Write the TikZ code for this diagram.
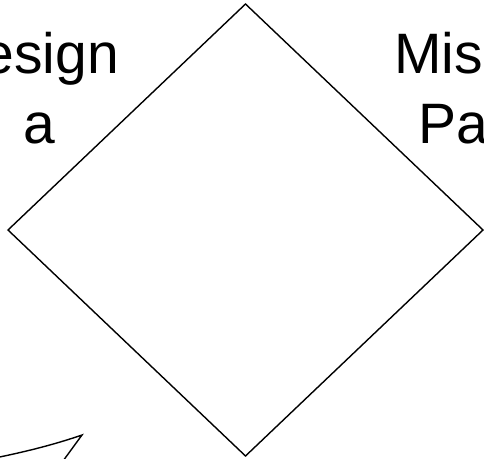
\documentclass[tikz,border=0pt]{standalone}
\usepackage{fontspec}
\setmainfont{Liberation Sans}
\begin{document}
\begin{tikzpicture}[x=1pt,y=-1pt,
    word/.style={inner sep=0pt,font=\fontsize{57}{68}\selectfont},
    edge/.style={line width=1.4pt,line join=miter}]
        \useasboundingbox (0,0) rectangle (484,458);
        \clip (0,0) rectangle (484,458);
        %% Labels
        \node[word,anchor=base east] (design) at (119,73) {esign};
        \node[word,anchor=base west] (a) at (23,143) {a};
        \node[word,anchor=base west] (mis) at (394,73) {Mis};
        \node[word,anchor=base west] (pa) at (418.5,143) {Pa};
        %% Diamond
        \draw[edge] (245.5,4) -- (483,230) -- (245.5,456) -- (8,230) -- cycle;
        %% Callout
        \coordinate (tip) at (82,435);
        \draw[edge] (-15,460) .. controls (20,453) and (50,446) .. (tip)
            -- (63,461);
    \end{tikzpicture}
\end{document}
